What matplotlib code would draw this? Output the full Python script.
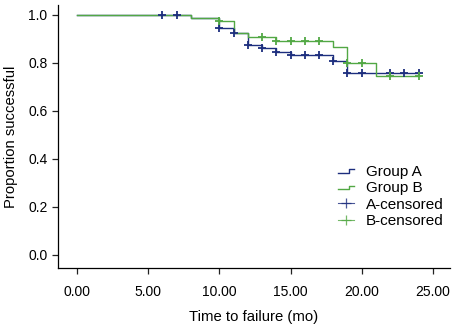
import matplotlib
matplotlib.use("Agg")
import matplotlib.pyplot as plt
from matplotlib.legend_handler import HandlerBase
from matplotlib.lines import Line2D

plt.rcParams['font.family'] = ['Liberation Sans', 'DejaVu Sans']

blue = "#1d2e7e"
green = "#52a844"

# Kaplan-Meier step points (time, survival after the step)
a_time = [0, 8, 10, 11, 12, 13, 14, 15, 18, 19, 24]
a_surv = [1.0, 0.986, 0.944, 0.924, 0.875, 0.861, 0.847, 0.833, 0.810, 0.757, 0.757]
b_time = [0, 8, 10, 11, 12, 14, 18, 19, 21, 24]
b_surv = [1.0, 0.986, 0.975, 0.924, 0.910, 0.893, 0.865, 0.800, 0.746, 0.746]

# censored observations
a_cens_t = [6, 7, 10, 11, 12, 13, 14, 15, 16, 17, 18, 19, 20, 22, 23, 24]
a_cens_s = [1.0, 1.0, 0.944, 0.924, 0.875, 0.861, 0.847, 0.833, 0.833, 0.833,
            0.810, 0.757, 0.757, 0.757, 0.757, 0.757]
b_cens_t = [10, 13, 14, 15, 16, 17, 19, 20, 22, 24]
b_cens_s = [0.975, 0.910, 0.893, 0.893, 0.893, 0.893, 0.800, 0.800, 0.746, 0.746]

x_ticks = [0, 5, 10, 15, 20, 25]
y_ticks = [0.0, 0.2, 0.4, 0.6, 0.8, 1.0]


class StepHandler(HandlerBase):
    def create_artists(self, legend, orig_handle, xdescent, ydescent,
                       width, height, fontsize, trans):
        mid = width * 0.68
        lo = height * 0.28
        hi = height * 0.58
        line = Line2D([0, mid, mid, width], [lo, lo, hi, hi],
                      color=orig_handle.get_color(), lw=1.0, transform=trans)
        return [line]


fig = plt.figure(figsize=(4.55, 3.27), dpi=100)
ax = fig.add_axes([0.1275, 0.180, 0.8615, 0.8037])

la, = ax.step(a_time, a_surv, where='post', color=blue, lw=1.0)
lb, = ax.step(b_time, b_surv, where='post', color=green, lw=1.0)
ca, = ax.plot(a_cens_t, a_cens_s, ls='none', marker='+', ms=6, mew=1.3, color=blue)
cb, = ax.plot(b_cens_t, b_cens_s, ls='none', marker='+', ms=6, mew=1.3, color=green)

ha = Line2D([], [], color=blue, lw=1.0)
hb = Line2D([], [], color=green, lw=1.0)
hca = Line2D([], [], color=blue, lw=0.8, marker='+', ms=7, mew=0.9, alpha=0.8)
hcb = Line2D([], [], color=green, lw=0.8, marker='+', ms=7, mew=0.9, alpha=0.8)

ax.legend([ha, hb, hca, hcb], ["Group A", "Group B", "A-censored", "B-censored"],
          handler_map={ha: StepHandler(), hb: StepHandler()},
          loc='upper left', bbox_to_anchor=(330 / 455, 1 - 157 / 327),
          bbox_transform=fig.transFigure, frameon=False, borderpad=0,
          fontsize=11, handlelength=1.1, handletextpad=0.75, labelspacing=0.17)

ax.set_xlim(-1.33, 26.2)
ax.set_ylim(-0.055, 1.04)
ax.set_xticks(x_ticks)
ax.set_xticklabels([f"{t:.2f}" for t in x_ticks])
ax.set_yticks(y_ticks)
ax.set_yticklabels([f"{t:.1f}" for t in y_ticks])
ax.tick_params(labelsize=10, length=4, width=0.9, color='#222222')
ax.tick_params(axis='x', pad=8)
ax.spines['top'].set_visible(False)
ax.spines['right'].set_visible(False)
ax.spines['left'].set_linewidth(0.9)
ax.spines['bottom'].set_linewidth(0.9)

ax.set_xlabel("Time to failure (mo)", fontsize=10.7, labelpad=8)
ax.set_ylabel("Proportion successful", fontsize=10.7, labelpad=7)

fig.savefig("out.png", dpi=100)
